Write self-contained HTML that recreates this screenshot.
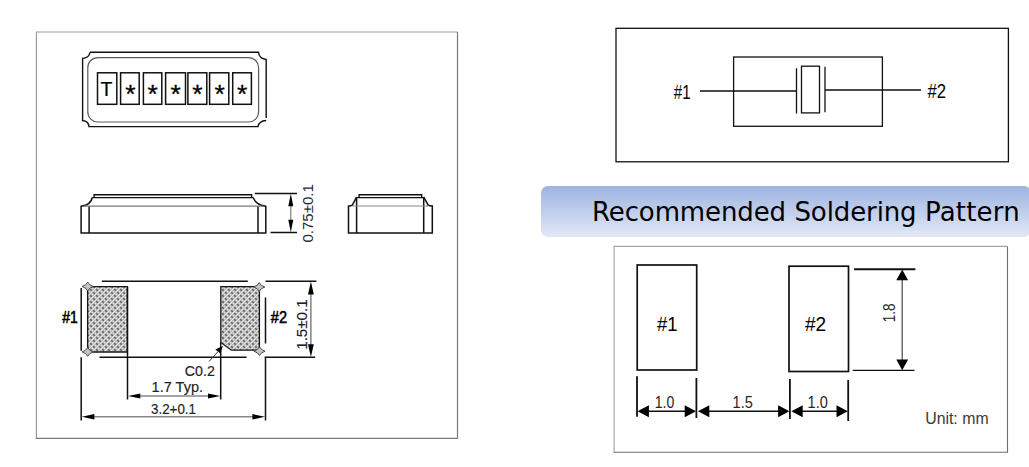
<!DOCTYPE html>
<html lang="en">
<head>
<meta charset="utf-8">
<title>Dimensions and Recommended Soldering Pattern</title>
<style>
html,body{margin:0;padding:0;background:#fff;}
body{width:1029px;height:467px;overflow:hidden;position:relative;font-family:"Liberation Sans",sans-serif;}
svg{position:absolute;left:0;top:0;display:block;}
.banner{position:absolute;left:540.5px;top:186.4px;width:490px;height:50.4px;border-radius:7px;
 background:linear-gradient(to bottom,#9db4e2 0%,#e3e8f5 100%);}
.banner span{letter-spacing:-0.11px;word-spacing:0.3px;position:absolute;left:51.5px;top:10.4px;font-family:"DejaVu Sans","Liberation Sans",sans-serif;font-size:26px;color:#000;white-space:nowrap;line-height:30px;}
text{font-family:"Liberation Sans",sans-serif;}
.banner b{font-weight:normal;letter-spacing:0.2px;}
</style>
</head>
<body>
<div class="banner"><span>Recommended Soldering <b>Pattern</b></span></div>
<svg width="1029" height="467" viewBox="0 0 1029 467">
<defs>
<pattern id="hatch" width="6" height="6" patternUnits="userSpaceOnUse">
<rect width="6" height="6" fill="#bcbcbc"/>
<path d="M-1 1 L1 -1 M-0.5 3.5 L3.5 -0.5 M-0.5 6.5 L6.5 -0.5 M2.5 6.5 L6.5 2.5 M5 7 L7 5" stroke="#ededed" stroke-width="0.9"/>
<rect x="0.3" y="1.3" width="1.4" height="1.4" fill="#1a1a1a"/>
<rect x="3.3" y="4.3" width="1.4" height="1.4" fill="#1a1a1a"/>
</pattern>
</defs>
<!-- left frame -->
<path d="M36.4 438.4 V32 H457.5" fill="none" stroke="#9c9c9c" stroke-width="1.2"/>
<path d="M457.5 32 V438.4 H35.8" fill="none" stroke="#7a7a7a" stroke-width="1.2"/>

<!-- top view -->
<g fill="none" stroke="#111" stroke-width="1.4">
<path d="M90 52.3 H258.5 Q259 58.5 266.2 59.5 V118 M266.2 120.5 Q259 121 258 126.6 H89 Q88.5 121 82.6 120.5 V58.4 Q89 58 90 52.3"/>
<rect x="87.8" y="57.6" width="170.8" height="64.4" rx="10" ry="10" stroke="#5a5a5a" stroke-width="1.2"/>
<g stroke-width="1.5">
<rect x="97.5" y="72.8" width="19.3" height="31.5"/>
<rect x="120.6" y="72.8" width="18.6" height="31.5"/>
<rect x="143.4" y="72.8" width="18.4" height="31.5"/>
<rect x="165.6" y="72.8" width="19.9" height="31.5"/>
<rect x="187.9" y="72.8" width="18.9" height="31.5"/>
<rect x="209.6" y="72.8" width="19.2" height="31.5"/>
<rect x="232.7" y="72.8" width="18.7" height="31.5"/>
</g>
</g>
<g font-size="26.5" text-anchor="middle" stroke="#000" stroke-width="0.3">
<text x="106.5" y="95.6" font-size="19.5" stroke-width="0.2">T</text>
<text x="130.3" y="102.7">*</text>
<text x="152.7" y="102.7">*</text>
<text x="175.6" y="102.7">*</text>
<text x="197.5" y="102.7">*</text>
<text x="219.6" y="102.7">*</text>
<text x="242.2" y="102.7">*</text>
</g>

<!-- side view long -->
<g fill="none" stroke="#111" stroke-width="1.5">
<path d="M94.1 197.6 V194.7 H251.6 V197.6" stroke-width="1.4"/>
<path d="M92.3 197.6 H253.2" stroke-width="1.4"/>
<path d="M92.3 197.5 Q91 205 81.1 206.2 V232.9 H265.8 V206.3 Q256 205 253.2 197.5"/>
<path d="M89.1 206.2 V232.9 M258 206.2 V232.9"/>
<path d="M84 206.1 H263" stroke="#777" stroke-width="1.1"/>
<path d="M254.8 193.5 H297 M270.5 232.4 H297"/>
<path d="M290.8 200 V226" stroke="#666" stroke-width="1"/>
</g>
<path d="M290.8 193.8 L288.3 206.2 H293.3 Z M290.8 232.2 L288.3 219.8 H293.3 Z" fill="#000"/>
<text transform="translate(313.3,242.6) rotate(-90)" font-size="15.5" textLength="58.5" lengthAdjust="spacingAndGlyphs" fill="#2a2a2a">0.75±0.1</text>

<!-- side view short -->
<g fill="none" stroke="#111" stroke-width="1.5">
<path d="M359.1 197.5 V194.7 H421.7 V197.5" stroke-width="1.4"/>
<path d="M356.6 197.6 H423.7" stroke-width="1.4"/>
<path d="M356.6 197.2 L352.3 205.2 Q351 206 348.5 206 V232.9 H432.3 V206 Q429.5 206 428.2 205.2 L423.7 197.2"/>
<path d="M356.6 197.2 V232.9 M423.7 197.2 V232.9"/>
<path d="M352.3 206 H428.2" stroke="#888" stroke-width="1.1"/>
</g>

<!-- bottom view -->
<g fill="none" stroke="#111" stroke-width="1.5">
<path d="M101.8 281.3 H247.8 M99.5 357.3 H246.6"/>
<path d="M81.2 288 V350.7 M265.5 297.5 V343.5"/>
</g>
<path d="M87.6 286.7 H127.4 V352 H87.6 Z" fill="url(#hatch)" stroke="#161616" stroke-width="1.3"/>
<path d="M220.8 286.7 H259.4 V350.2 H231.5 L220.8 342.5 Z" fill="url(#hatch)" stroke="#161616" stroke-width="1.3"/>

<g fill="#c4c4c4" stroke="#4a4a4a" stroke-width="1">
<path d="M87.7 282.1 Q89.0 285.2 93.3 286.5 Q89.0 287.8 87.7 290.9 Q86.4 287.8 82.1 286.5 Q86.4 285.2 87.7 282.1 Z"/>
<path d="M87.7 347.5 Q89.0 350.6 93.3 351.9 Q89.0 353.2 87.7 356.3 Q86.4 353.2 82.1 351.9 Q86.4 350.6 87.7 347.5 Z"/>
<path d="M259.2 282.6 Q260.5 285.7 264.8 287.0 Q260.5 288.3 259.2 291.4 Q257.9 288.3 253.6 287.0 Q257.9 285.7 259.2 282.6 Z"/>
<path d="M259.5 346.8 Q260.8 349.9 265.1 351.2 Q260.8 352.5 259.5 355.6 Q258.2 352.5 253.9 351.2 Q258.2 349.9 259.5 346.8 Z"/>
</g>
<g fill="none" stroke="#111" stroke-width="1.5">
<path d="M127.5 286.7 V399.4 M220.7 342.5 V399.4 M81.2 357.3 V420.4 M265.5 357.3 V420.4"/>
<path d="M265.5 281.3 H316.4 M264.7 357.3 H315.2"/>
</g>
<g stroke="#888" stroke-width="1.5" fill="none">
<path d="M138 396 H210 M92 416.8 H255"/>
<path d="M310.9 292 V346" stroke-width="1.1" stroke="#555"/>
</g>
<g fill="#000">
<path d="M310.9 281.6 L308 294.5 H313.8 Z M310.9 357 L308 344.2 H313.8 Z"/>
<path d="M128 396 L140.3 393.4 V398.6 Z M220.3 396 L208 393.4 V398.6 Z"/>
<path d="M81.8 416.8 L94.4 414.1 V419.5 Z M265 416.8 L252.4 414.1 V419.5 Z"/>
<path d="M222.8 346 L220.4 353.6 L215.3 349.4 Z"/>
</g>
<path d="M218 351.5 L209 361.5" stroke="#333" stroke-width="1" fill="none"/>
<text x="62.2" y="323.4" font-size="16.5" stroke="#000" stroke-width="0.55" textLength="15.6" lengthAdjust="spacingAndGlyphs">#1</text>
<text x="270.8" y="323.4" font-size="16.5" stroke="#000" stroke-width="0.55" textLength="16.2" lengthAdjust="spacingAndGlyphs">#2</text>
<g fill="#222" font-size="15.1" stroke="#222" stroke-width="0.15">
<text x="184.8" y="376.3" textLength="30" lengthAdjust="spacingAndGlyphs">C0.2</text>
<text x="151.6" y="392.4" textLength="51.5" lengthAdjust="spacingAndGlyphs">1.7 Typ.</text>
<text x="151" y="414.4" textLength="45" lengthAdjust="spacingAndGlyphs">3.2+0.1</text>
<text transform="translate(307.3,349.8) rotate(-90)" font-size="15.5" textLength="50.5" lengthAdjust="spacingAndGlyphs">1.5±0.1</text>
</g>

<!-- right top panel -->
<g fill="none" stroke="#111" stroke-width="1.3">
<rect x="616" y="28.3" width="392.4" height="133.5"/>
<rect x="733.6" y="57" width="148.8" height="69.3"/>
<path d="M700 91 H796.5 M825 90 H921"/>
<path d="M796.5 68.3 V113.5 M825 66.8 V112.3"/>
<rect x="801.5" y="66.2" width="18" height="46.7"/>
</g>
<text x="673.8" y="99.1" font-size="19.5" textLength="16.8" lengthAdjust="spacingAndGlyphs">#1</text>
<text x="927.4" y="97.8" font-size="19.5" textLength="18.6" lengthAdjust="spacingAndGlyphs">#2</text>

<!-- right bottom panel -->
<path d="M614.1 452.3 V246.4 H1007.5" fill="none" stroke="#a2a2a2" stroke-width="1.1"/>
<path d="M1007.5 246.4 V452.3 H613.6" fill="none" stroke="#6e6e6e" stroke-width="1.1"/>
<g fill="none" stroke="#111" stroke-width="1.4">
<rect x="637.2" y="265" width="59.5" height="105" stroke-width="1.7"/>
<rect x="789" y="266.2" width="59.5" height="105.3" stroke-width="1.7"/>
<path d="M637 376.2 V416.8 M696.4 377.9 V418 M789.9 379 V419 M848.2 380 V420.9" stroke-width="1.8"/>
<path d="M854.1 269.2 H915.4" stroke-width="1.9"/><path d="M852.7 370.4 H914.5" stroke-width="1.2"/>
<path d="M902.2 275 V365" stroke-width="1.3" stroke="#555"/>
<path d="M645 411.3 H690 M705 411.3 H782 M798 411.3 H840" stroke-width="1.6"/>
</g>
<g fill="#000">
<path d="M902.2 269.4 L896.3 280.2 H908.1 Z M902.2 370.2 L896.3 359.4 H908.1 Z"/>
<path d="M637.6 411.3 L648.9 405.3 V417.3 Z M696 411.3 L684.7 405.3 V417.3 Z"/>
<path d="M698 411.3 L709.3 405.3 V417.3 Z M789.4 411.3 L778.1 405.3 V417.3 Z"/>
<path d="M791.4 411.3 L802.7 405.3 V417.3 Z M847.8 411.3 L836.5 405.3 V417.3 Z"/>
</g>
<text x="657" y="331" font-size="20" textLength="20.5" lengthAdjust="spacingAndGlyphs">#1</text>
<text x="804.9" y="331" font-size="20" textLength="21.2" lengthAdjust="spacingAndGlyphs">#2</text>
<g font-size="16.5" fill="#262626">
<text x="654.7" y="407.8" textLength="19.6" lengthAdjust="spacingAndGlyphs">1.0</text>
<text x="732.6" y="407.8" textLength="20.2" lengthAdjust="spacingAndGlyphs">1.5</text>
<text x="807.6" y="407.8" textLength="20.2" lengthAdjust="spacingAndGlyphs">1.0</text>
<text transform="translate(894.6,322.2) rotate(-90)" textLength="18.8" lengthAdjust="spacingAndGlyphs">1.8</text>
<text x="925.2" y="424" fill="#3a3a3a" font-size="16" textLength="63.4" lengthAdjust="spacingAndGlyphs">Unit: mm</text>
</g>
</svg>
</body>
</html>
